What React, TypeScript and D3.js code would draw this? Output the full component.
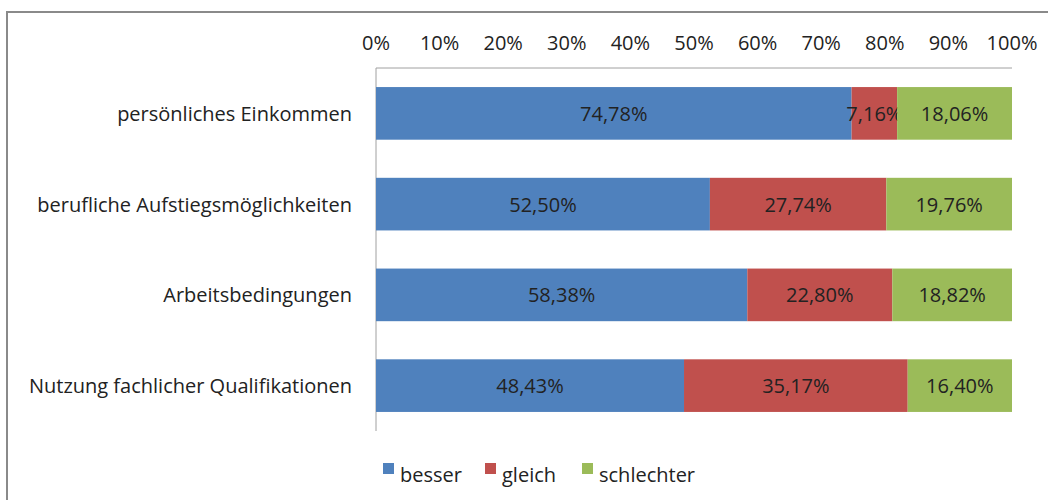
import React from "react";
import * as d3 from "d3";

const categories = [
  "persönliches Einkommen",
  "berufliche Aufstiegsmöglichkeiten",
  "Arbeitsbedingungen",
  "Nutzung fachlicher Qualifikationen",
];
const seriesNames = ["besser", "gleich", "schlechter"];
const besser = [74.78, 52.5, 58.38, 48.43];
const gleich = [7.16, 27.74, 22.8, 35.17];
const schlechter = [18.06, 19.76, 18.82, 16.4];
const tickValues = [0, 10, 20, 30, 40, 50, 60, 70, 80, 90, 100];
const colors = ["#4f81bd", "#c0504d", "#9bbb59"];

const width = 1048;
const height = 500;
const plot = { left: 376, right: 1012, top: 68, bottom: 431 };
const font = "'Open Sans', Lato, sans-serif";
const fs = 20;

export default function App() {
  const rows = categories.map((c, i) => ({
    category: c,
    besser: besser[i],
    gleich: gleich[i],
    schlechter: schlechter[i],
  }));
  const stacked = d3.stack<any>().keys(seriesNames)(rows);

  const x = d3.scaleLinear().domain([0, 100]).range([plot.left, plot.right]);
  const y = d3
    .scaleBand()
    .domain(categories)
    .range([plot.top, plot.bottom])
    .paddingInner(0.42)
    .paddingOuter(0.21);
  const fmt = (v: number) => v.toFixed(2).replace(".", ",") + "%";

  const legendX = [383, 485, 582];

  return (
    <svg
      width={width}
      height={height}
      style={{ position: "absolute", left: 0, top: 0, background: "#fff" }}
      fontFamily={font}
    >
      <rect x={0} y={0} width={width} height={height} fill="#fff" />
      <path
        d={`M7,${height + 5}V12H${width + 5}`}
        fill="none"
        stroke="#8a8a8a"
        strokeWidth={2}
      />
      {/* top axis labels */}
      {tickValues.map((t) => (
        <text
          key={t}
          x={x(t)}
          y={42}
          textAnchor="middle"
          dominantBaseline="central"
          fontSize={fs}
          fill="#222"
        >
          {t + "%"}
        </text>
      ))}
      <line x1={plot.left} x2={plot.right} y1={plot.top} y2={plot.top} stroke="#a0a0a0" />
      <line x1={plot.left} x2={plot.left} y1={plot.top} y2={plot.bottom} stroke="#a0a0a0" />
      {stacked.map((s, si) => (
        <g key={s.key}>
          {s.map((d, i) => (
            <g key={i}>
              <rect
                x={x(d[0])}
                y={y(categories[i])}
                width={x(d[1]) - x(d[0])}
                height={y.bandwidth()}
                fill={colors[si]}
              />
              <text
                x={(x(d[0]) + x(d[1])) / 2}
                y={(y(categories[i]) as number) + y.bandwidth() / 2}
                textAnchor="middle"
                dominantBaseline="central"
                fontSize={fs}
                fill="#222"
              >
                {fmt(d[1] - d[0])}
              </text>
            </g>
          ))}
        </g>
      ))}
      {categories.map((c) => (
        <text
          key={c}
          x={352}
          y={(y(c) as number) + y.bandwidth() / 2}
          textAnchor="end"
          dominantBaseline="central"
          fontSize={fs}
          fill="#222"
        >
          {c}
        </text>
      ))}
      {seriesNames.map((n, i) => (
        <g key={n}>
          <rect x={legendX[i]} y={463} width={11} height={11} fill={colors[i]} />
          <text
            x={legendX[i] + 17}
            y={474}
            dominantBaseline="central"
            fontSize={fs}
            fill="#222"
          >
            {n}
          </text>
        </g>
      ))}
    </svg>
  );
}
